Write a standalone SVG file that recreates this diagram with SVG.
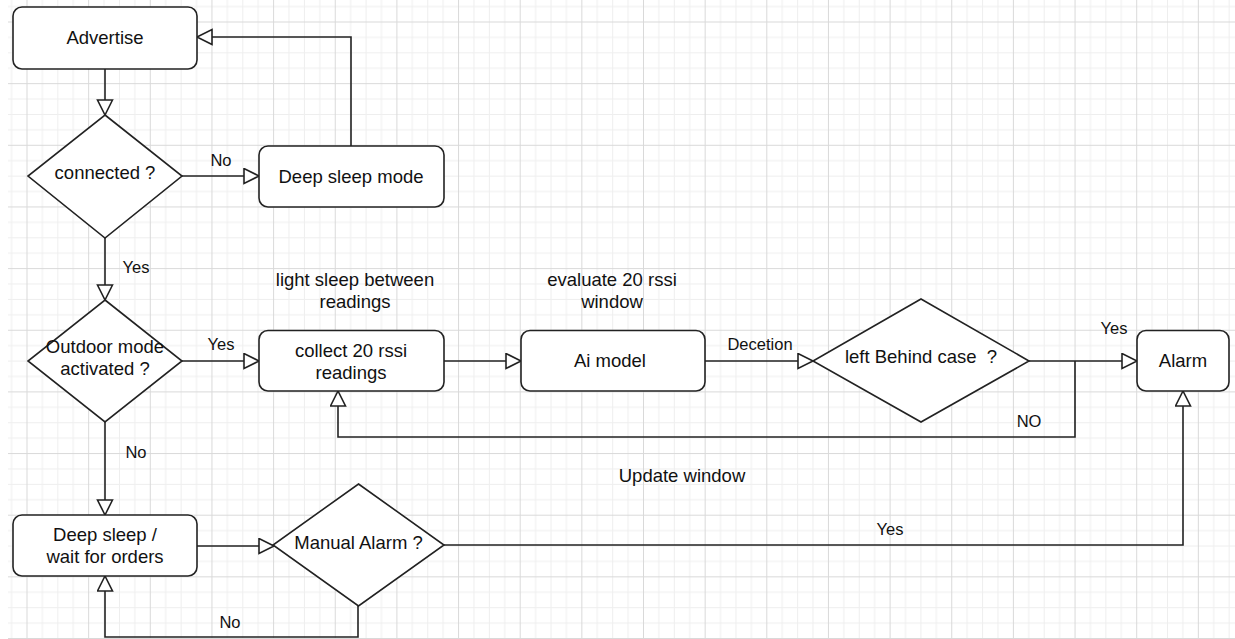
<svg xmlns="http://www.w3.org/2000/svg" width="1235" height="639" viewBox="0 0 1235 639">
<style>
.node{fill:#fff;stroke:#222;stroke-width:1.6}
.conn{fill:none;stroke:#222;stroke-width:1.6}
text{font-family:"Liberation Sans",Arial,sans-serif;fill:#111;text-anchor:middle}
.t{font-size:18.5px}
.l{font-size:16.5px}
</style>
<defs>
<pattern id="grid" patternUnits="userSpaceOnUse" x="26.5" y="21.5" width="61.65" height="61.65">
<rect x="15.4" y="0" width="1" height="61.65" fill="#eeeeee"/>
<rect x="30.8" y="0" width="1" height="61.65" fill="#eeeeee"/>
<rect x="46.2" y="0" width="1" height="61.65" fill="#eeeeee"/>
<rect x="0" y="15.4" width="61.65" height="1" fill="#eeeeee"/>
<rect x="0" y="30.8" width="61.65" height="1" fill="#eeeeee"/>
<rect x="0" y="46.2" width="61.65" height="1" fill="#eeeeee"/>
<rect x="0" y="0" width="1" height="61.65" fill="#d9d9d9"/>
<rect x="0" y="0" width="61.65" height="1" fill="#d9d9d9"/>
</pattern>
<marker id="arr" markerUnits="userSpaceOnUse" markerWidth="18" markerHeight="18" viewBox="-1 -1 18 18" refX="15" refY="7.5" orient="auto">
<path d="M0,0 L15,7.5 L0,15 Z" fill="#fff" stroke="#222" stroke-width="1.6"/>
</marker>
</defs>
<rect width="1235" height="639" fill="#fff"/>
<rect x="8" y="0" width="1227" height="639" fill="url(#grid)"/>

<g id="connectors">
<path class="conn" d="M105,69 V115" marker-end="url(#arr)"/>
<path class="conn" d="M182,176 H259" marker-end="url(#arr)"/>
<path class="conn" d="M351,146 V37 H197" marker-end="url(#arr)"/>
<path class="conn" d="M105,238 V300" marker-end="url(#arr)"/>
<path class="conn" d="M182,361 H259" marker-end="url(#arr)"/>
<path class="conn" d="M444,361 H521" marker-end="url(#arr)"/>
<path class="conn" d="M705,361 H813" marker-end="url(#arr)"/>
<path class="conn" d="M1029,361 H1137" marker-end="url(#arr)"/>
<path class="conn" d="M1075,361 V437 H338 V391" marker-end="url(#arr)"/>
<path class="conn" d="M105,422 V515" marker-end="url(#arr)"/>
<path class="conn" d="M197,546 H274" marker-end="url(#arr)"/>
<path class="conn" d="M358,606 V637 H105 V576" marker-end="url(#arr)"/>
<path class="conn" d="M444,545 H1183 V391" marker-end="url(#arr)"/>
<text class="l" x="221" y="166">No</text>
<text class="l" x="136" y="273">Yes</text>
<text class="l" x="221" y="350">Yes</text>
<text class="l" x="136" y="458">No</text>
<text class="l" x="760" y="350">Decetion</text>
<text class="l" x="1114" y="334">Yes</text>
<text class="l" x="1029" y="427">NO</text>
<text class="l" x="890" y="535">Yes</text>
<text class="l" x="230" y="628">No</text>
</g>

<g id="advertise">
<rect class="node" x="13" y="7" width="184" height="62" rx="9"/>
<text class="t" x="105" y="44">Advertise</text>
</g>
<g id="connected">
<path class="node" d="M105,115 L182,176 L105,238 L28,176 Z"/>
<text class="t" x="105" y="179">connected ?</text>
</g>
<g id="deep-sleep-mode">
<rect class="node" x="259" y="146" width="185" height="61" rx="9"/>
<text class="t" x="351" y="183">Deep sleep mode</text>
</g>
<g id="outdoor-mode">
<path class="node" d="M105,300 L182,361 L105,422 L28,361 Z"/>
<text class="t" x="105" y="353">Outdoor mode</text>
<text class="t" x="105" y="375">activated ?</text>
</g>
<g id="collect">
<rect class="node" x="259" y="330.5" width="185" height="60.5" rx="9"/>
<text class="t" x="351" y="357">collect 20 rssi</text>
<text class="t" x="351" y="379">readings</text>
</g>
<g id="light-sleep-note">
<text class="t" x="355" y="286">light sleep between</text>
<text class="t" x="355" y="308">readings</text>
</g>
<g id="ai-model">
<rect class="node" x="521" y="330.5" width="184" height="60.5" rx="9"/>
<text class="t" x="610" y="367">Ai model</text>
</g>
<g id="evaluate-note">
<text class="t" x="612" y="286">evaluate 20 rssi</text>
<text class="t" x="612" y="308">window</text>
</g>
<g id="left-behind">
<path class="node" d="M921,299 L1029,361 L921,422 L813,361 Z"/>
<text class="t" x="921" y="363" xml:space="preserve">left Behind case  ?</text>
</g>
<g id="alarm">
<rect class="node" x="1137" y="330.5" width="92" height="60.5" rx="9"/>
<text class="t" x="1183" y="367">Alarm</text>
</g>
<g id="update-window-note">
<text class="t" x="682" y="482">Update window</text>
</g>
<g id="deep-sleep-wait">
<rect class="node" x="13" y="515" width="184" height="61" rx="9"/>
<text class="t" x="105" y="541">Deep sleep /</text>
<text class="t" x="105" y="563">wait for orders</text>
</g>
<g id="manual-alarm">
<path class="node" d="M358.5,484 L444,545 L358.5,606 L273,545 Z"/>
<text class="t" x="358.5" y="549">Manual Alarm ?</text>
</g>
</svg>
